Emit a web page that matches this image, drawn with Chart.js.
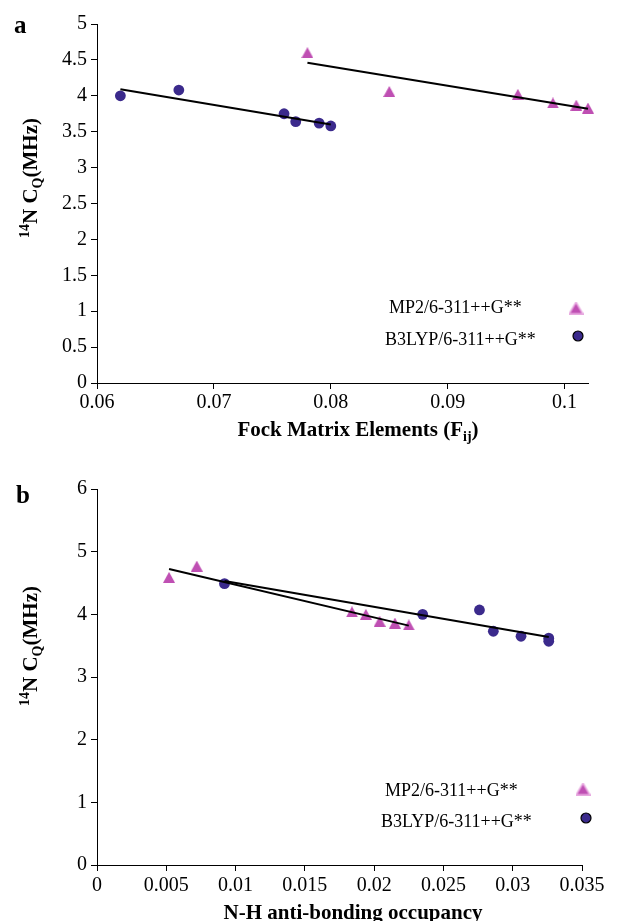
<!DOCTYPE html>
<html><head><meta charset="utf-8">
<script src="https://cdn.jsdelivr.net/npm/chart.js@4.4.1/dist/chart.umd.min.js"></script>
<style>
html,body{margin:0;padding:0;background:#fff;}
body{width:625px;height:921px;position:relative;overflow:hidden;}
.p{position:absolute;left:0;width:625px;}
canvas{display:block;}
</style></head><body>
<div class="p" style="top:0;height:460px"><canvas id="ca" width="625" height="460"></canvas></div>
<div class="p" style="top:460px;height:461px"><canvas id="cb" width="625" height="461"></canvas></div>
<script>
// ---- data (panel a) ----
const seriesNames = ['MP2/6-311++G**', 'B3LYP/6-311++G**'];
const fockMP2 = [0.078, 0.085, 0.096, 0.099, 0.101, 0.102];
const cqMP2a  = [4.60, 4.06, 4.02, 3.90, 3.87, 3.83];
const fockB3  = [0.062, 0.067, 0.076, 0.077, 0.079, 0.080];
const cqB3a   = [4.00, 4.08, 3.75, 3.64, 3.62, 3.58];
// ---- data (panel b) ----
const occMP2 = [0.0052, 0.0072, 0.0184, 0.0194, 0.0204, 0.0215, 0.0225];
const cqMP2b = [4.59, 4.77, 4.04, 4.00, 3.89, 3.86, 3.83];
const occB3  = [0.0092, 0.0235, 0.0276, 0.0286, 0.0306, 0.0326, 0.0326];
const cqB3b  = [4.49, 4.00, 4.07, 3.73, 3.65, 3.62, 3.57];
// ---- ticks ----
const xTicksA = [0.06, 0.07, 0.08, 0.09, 0.1];
const xLabelsA = ['0.06', '0.07', '0.08', '0.09', '0.1'];
const yTicksA = [0, 0.5, 1, 1.5, 2, 2.5, 3, 3.5, 4, 4.5, 5];
const yLabelsA = ['0', '0.5', '1', '1.5', '2', '2.5', '3', '3.5', '4', '4.5', '5'];
const xTicksB = [0, 0.005, 0.01, 0.015, 0.02, 0.025, 0.03, 0.035];
const xLabelsB = ['0', '0.005', '0.01', '0.015', '0.02', '0.025', '0.03', '0.035'];
const yTicksB = [0, 1, 2, 3, 4, 5, 6];
const yLabelsB = ['0', '1', '2', '3', '4', '5', '6'];

const FONT = '"Liberation Serif", "Times New Roman", serif';
const CIRC = '#3b2a8c';
const TRI = '#bf4fb3';

function pts(xs, ys) { return xs.map((x, i) => ({x: x, y: ys[i]})); }
function fit(xs, ys) {
  const n = xs.length;
  const mx = xs.reduce((a, b) => a + b, 0) / n, my = ys.reduce((a, b) => a + b, 0) / n;
  let sxy = 0, sxx = 0;
  for (let i = 0; i < n; i++) { sxy += (xs[i] - mx) * (ys[i] - my); sxx += (xs[i] - mx) * (xs[i] - mx); }
  const m = sxy / sxx, b = my - m * mx;
  const x0 = Math.min(...xs), x1 = Math.max(...xs);
  return [{x: x0, y: m * x0 + b}, {x: x1, y: m * x1 + b}];
}
function triImg(w, h, fill, stroke, lw) {
  const c = document.createElement('canvas'); c.width = w; c.height = h;
  const g = c.getContext('2d'); const o = lw ? lw / 2 : 0;
  g.beginPath(); g.moveTo(w / 2, o); g.lineTo(w - o, h - o); g.lineTo(o, h - o); g.closePath();
  g.fillStyle = fill; g.fill();
  if (stroke) { g.lineWidth = lw; g.strokeStyle = stroke; g.stroke(); }
  return c;
}
const triPoint = triImg(12, 11, TRI);
const triLegend = triImg(15, 13, TRI, '#e7a8df', 1.5);

function scaleCfg(min, max, vals, labels, fixed, isX, pad) {
  return {
    type: 'linear', min: min, max: max,
    afterBuildTicks: s => { s.ticks = vals.map(v => ({value: v})); },
    afterFit: s => { if (isX) s.height = fixed; else s.width = fixed; },
    ticks: { callback: (v, i) => labels[i], font: {family: FONT, size: 20}, color: '#000',
      padding: pad, maxRotation: 0, autoSkip: false, includeBounds: false },
    grid: { drawOnChartArea: false, drawTicks: true, tickLength: 6, color: '#000', lineWidth: 1 },
    border: { display: true, color: '#000', width: 1 },
    title: { display: false }
  };
}
function drawRich(ctx, parts, x, y, rot) {
  ctx.save(); ctx.translate(x, y); if (rot) ctx.rotate(rot);
  let total = 0;
  parts.forEach(p => { ctx.font = 'bold ' + p[1] + 'px ' + FONT; p.w = ctx.measureText(p[0]).width; total += p.w; });
  let cx = -total / 2;
  ctx.fillStyle = '#000'; ctx.textBaseline = 'alphabetic'; ctx.textAlign = 'left';
  parts.forEach(p => { ctx.font = 'bold ' + p[1] + 'px ' + FONT; ctx.fillText(p[0], cx, p[2]); cx += p.w; });
  ctx.restore();
}
function decor(o) {
  return {
    id: 'decor' + o.panel,
    afterDraw(chart) {
      const ctx = chart.ctx;
      // panel letter
      ctx.save(); ctx.fillStyle = '#000'; ctx.font = 'bold 25px ' + FONT; ctx.textBaseline = 'alphabetic';
      ctx.textAlign = 'left'; ctx.fillText(o.panel, o.px, o.py); ctx.restore();
      // axis titles
      drawRich(ctx, o.xTitle, o.xtx, o.xty, 0);
      drawRich(ctx, [['14', 14, -8], ['N C', 21, 0], ['Q', 14, 5], ['(MHz)', 21, 0]], 37, o.ytc, -Math.PI / 2);
      // legend
      ctx.save(); ctx.fillStyle = '#000'; ctx.font = '18px ' + FONT; ctx.textBaseline = 'middle'; ctx.textAlign = 'left';
      ctx.fillText(seriesNames[0], o.l1x, o.l1y);
      ctx.fillText(seriesNames[1], o.l2x, o.l2y);
      ctx.drawImage(triLegend, o.t1x - triLegend.width / 2, o.t1y - triLegend.height / 2);
      ctx.beginPath(); ctx.arc(o.c2x, o.c2y, 5, 0, Math.PI * 2);
      ctx.fillStyle = CIRC; ctx.fill(); ctx.lineWidth = 1.2; ctx.strokeStyle = '#000'; ctx.stroke();
      ctx.restore();
    }
  };
}
function makeChart(id, mp2x, mp2y, b3x, b3y, xs, ys, pad, plugin) {
  return new Chart(document.getElementById(id), {
    type: 'scatter',
    data: { datasets: [
      { data: fit(mp2x, mp2y), showLine: true, borderColor: '#000', borderWidth: 2, pointRadius: 0, order: 0, clip: false },
      { data: fit(b3x, b3y), showLine: true, borderColor: '#000', borderWidth: 2, pointRadius: 0, order: 0, clip: false },
      { label: seriesNames[0], data: pts(mp2x, mp2y), pointStyle: triPoint, pointRadius: 6, order: 1, clip: false },
      { label: seriesNames[1], data: pts(b3x, b3y), pointStyle: 'circle', pointRadius: 5.4, backgroundColor: CIRC, borderWidth: 0, order: 1, clip: false }
    ]},
    options: {
      responsive: false, animation: false, devicePixelRatio: 1,
      layout: { padding: pad },
      plugins: { legend: { display: false }, tooltip: { enabled: false } },
      scales: { x: xs, y: ys }
    },
    plugins: [plugin]
  });
}
makeChart('ca', fockMP2, cqMP2a, fockB3, cqB3a,
  scaleCfg(0.06, 0.102, xTicksA, xLabelsA, 77, true, 2),
  scaleCfg(0, 5, yTicksA, yLabelsA, 97, false, 4),
  {left: 0, top: 24, right: 37, bottom: 0},
  decor({panel: 'a', px: 14, py: 33, xTitle: [['Fock Matrix Elements (F', 21, 0], ['ij', 14, 5], [')', 21, 0]],
    xtx: 358, xty: 436, ytc: 178,
    l1x: 389, l1y: 308, l2x: 385, l2y: 340, t1x: 576, t1y: 308, c2x: 578, c2y: 336}));
makeChart('cb', occMP2, cqMP2b, occB3, cqB3b,
  scaleCfg(0, 0.035, xTicksB, xLabelsB, 56, true, 3),
  scaleCfg(0, 6, yTicksB, yLabelsB, 97, false, 4),
  {left: 0, top: 29, right: 43, bottom: 0},
  decor({panel: 'b', px: 16, py: 43, xTitle: [['N-H anti-bonding occupancy', 21, 0]],
    xtx: 353, xty: 459, ytc: 186,
    l1x: 385, l1y: 331, l2x: 381, l2y: 362, t1x: 583, t1y: 329, c2x: 586, c2y: 358}));
</script>
</body></html>
